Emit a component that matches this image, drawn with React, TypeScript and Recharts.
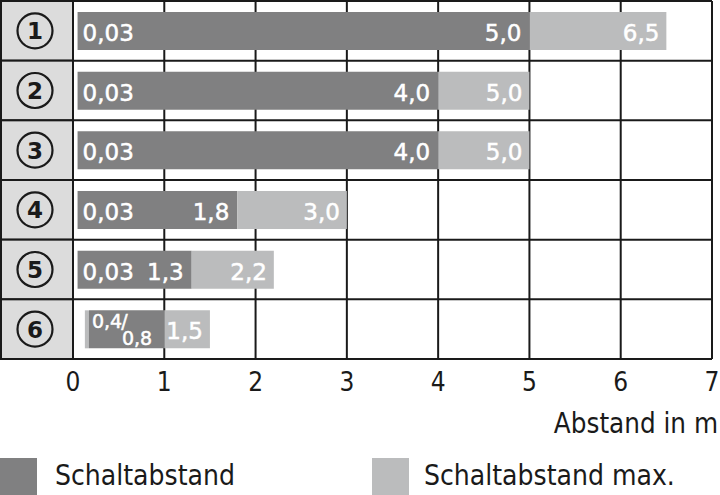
import { BarChart, Bar, XAxis, YAxis, CartesianGrid, LabelList } from 'recharts';

// Reihen ①–⑥ (von oben nach unten)
const rows = ['1', '2', '3', '4', '5', '6'];
// Balkenbeginn, Beginn dunkler Teil, Schaltabstand, Schaltabstand max. (in m)
const barStart = [0.05, 0.05, 0.05, 0.05, 0.05, 0.13];
const darkStart = [0.05, 0.05, 0.05, 0.05, 0.05, 0.175];
const switchDist = [5.0, 4.0, 4.0, 1.8, 1.3, 1.0];
const switchMax = [6.5, 5.0, 5.0, 3.0, 2.2, 1.5];
// Beschriftungen in den Balken
const startLabels = ['0,03', '0,03', '0,03', '0,03', '0,03', '0,4/0,8'];
const switchLabels = ['5,0', '4,0', '4,0', '1,8', '1,3', ''];
const maxLabels = ['6,5', '5,0', '5,0', '3,0', '2,2', '1,5'];
const xTicks = [0, 1, 2, 3, 4, 5, 6, 7];

const DARK = '#808081';
const LIGHT = '#bbbcbd';
const LINE = '#1a1a1a';
const W = 720;
const H = 495;
const MARGIN = { top: 1, right: 8, left: 0, bottom: 96 };
const X_AXIS_H = 40;
const PLOT_H = H - MARGIN.top - MARGIN.bottom - X_AXIS_H;
const ROW_H = PLOT_H / rows.length;

const data = rows.map((row, i) => ({
  row,
  base: barStart[i],
  pre: darkStart[i] - barStart[i],
  dark: switchDist[i] - darkStart[i],
  light: switchMax[i] - switchDist[i],
}));

const barFont = { fontFamily: 'DejaVu Sans', fontSize: 23, fill: '#fff', stroke: '#fff', strokeWidth: 0.5 };

function CircleTick(props: any) {
  const { y, payload } = props;
  return (
    <g>
      <rect x={1} y={y - ROW_H / 2} width={72} height={ROW_H} fill="#dcdcdc" stroke={LINE} strokeWidth={2} />
      <circle cx={35} cy={y} r={17.5} fill="none" stroke={LINE} strokeWidth={2.2} />
      <text x={35} y={y + 8.5} textAnchor="middle" fontFamily="DejaVu Sans" fontWeight="bold" fontSize={23} fill={LINE}>
        {payload.value}
      </text>
    </g>
  );
}

function DarkLabel(props: any) {
  const { x, y, width, height, index } = props;
  const cy = y + height / 2;
  if (index === 5) {
    // "0,4/0,8" als Bruch: ein Textelement mit versetztem Nenner
    const [top, bottom] = startLabels[index].split('/');
    return (
      <text x={x + 3} y={cy - 1.5} {...barFont} fontSize={19}>
        {top}
        <tspan dx={-1}>/</tspan>
        <tspan x={x + 33} dy={17.5}>{bottom}</tspan>
      </text>
    );
  }
  return (
    <g>
      <text x={x + 5} y={cy + 10} {...barFont}>{startLabels[index]}</text>
      <text x={x + width - 8} y={cy + 10} textAnchor="end" {...barFont}>{switchLabels[index]}</text>
    </g>
  );
}

function LightLabel(props: any) {
  const { x, y, width, height, index } = props;
  return (
    <text x={x + width - 7} y={y + height / 2 + 10} textAnchor="end" {...barFont}>
      {maxLabels[index]}
    </text>
  );
}

export default function App() {
  const legendText = { fontFamily: 'DejaVu Sans Condensed', fontSize: 28, fill: LINE };
  return (
    <div style={{ position: 'relative', width: W, height: H, background: '#fff' }}>
      <style>{'body{margin:0}'}</style>
      <BarChart width={W} height={H} data={data} layout="vertical" margin={MARGIN} barSize={38}>
        <CartesianGrid
          stroke={LINE}
          strokeWidth={2}
          horizontalCoordinatesGenerator={({ offset }: any) =>
            rows.map((_, i) => offset.top + i * (offset.height / rows.length)).concat(offset.top + offset.height)
          }
        />
        <XAxis
          type="number"
          domain={[0, 7]}
          ticks={xTicks}
          height={X_AXIS_H}
          axisLine={false}
          tickLine={false}
          tickSize={6}
          tickMargin={8}
          tick={{ fontFamily: 'DejaVu Sans Condensed', fontSize: 26, fill: LINE }}
        />
        <YAxis type="category" dataKey="row" width={73} axisLine={false} tickLine={false} tick={<CircleTick />} />
        <Bar dataKey="base" stackId="a" fill="transparent" isAnimationActive={false} />
        <Bar dataKey="pre" stackId="a" fill={LIGHT} isAnimationActive={false} />
        <Bar dataKey="dark" stackId="a" fill={DARK} isAnimationActive={false}>
          <LabelList dataKey="dark" content={<DarkLabel />} />
        </Bar>
        <Bar dataKey="light" stackId="a" fill={LIGHT} isAnimationActive={false}>
          <LabelList dataKey="light" content={<LightLabel />} />
        </Bar>
      </BarChart>
      <svg width={W} height={H} style={{ position: 'absolute', left: 0, top: 0, pointerEvents: 'none' }}>
        <text x={718} y={433} textAnchor="end" {...legendText} fontSize={27.5}>Abstand in m</text>
        <rect x={0} y={458} width={37} height={37} fill={DARK} />
        <text x={55} y={485} {...legendText}>Schaltabstand</text>
        <rect x={372} y={458} width={37} height={37} fill={LIGHT} />
        <text x={424} y={485} {...legendText}>Schaltabstand max.</text>
      </svg>
    </div>
  );
}
